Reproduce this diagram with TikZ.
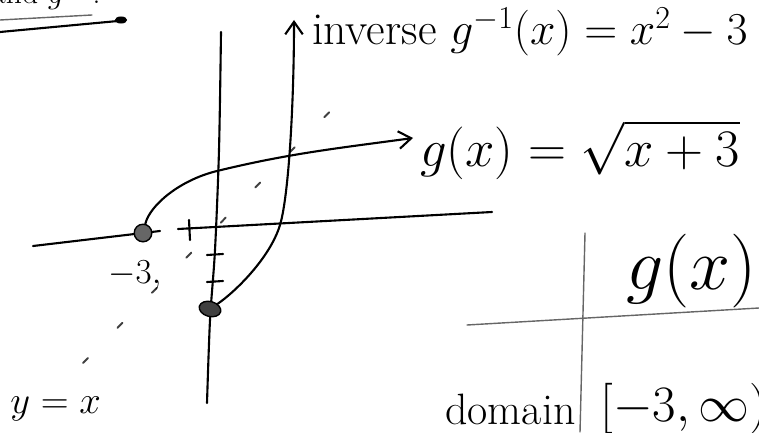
\documentclass[tikz,border=0pt]{standalone}
\usepackage{fix-cm}
\usepackage{amsmath}
\usepackage{tikz}
\usetikzlibrary{arrows.meta}
\usetikzlibrary{shapes.geometric}

\tikzset{
  pen/.style={black, line width=1.2pt, line cap=round},
  faint/.style={black!60, line width=0.8pt, line cap=round},
  hand/.style={inner sep=0pt, anchor=base west},
  blob/.style={draw=black, fill=black!60, line width=0.8pt, inner sep=0pt},
}

\begin{document}
\begin{tikzpicture}[x=0.02cm, y=-0.02cm]
    \useasboundingbox (0,0) rectangle (759,432);

    % bottom of the line above, cut by the page
    \node[hand, anchor=base east, font=\fontsize{18}{20}\selectfont] (head) at (101,4) {and $g^{-1}$.};
    \draw[faint] (0,20) -- (92,15);
    \draw[pen] (0,32) -- (118,21);
    \fill (121,20) ellipse (3.5pt and 2pt);

    % axes
    \coordinate (xl) at (33,246);
    \coordinate (xm) at (160,231);
    \coordinate (xn) at (178,229);
    \coordinate (xr) at (492,212);
    \draw[pen] (xl) -- (xm);
    \draw[pen] (xn) -- (xr);
    \draw[pen] plot[smooth] coordinates {(221,32) (219,150) (215,250) (210,320) (207,403)};

    \draw[pen] (189,220) -- (190,240);
    \foreach \y in {255,282}
        \draw[pen] (207,\y) -- (223,\y-1);

    % y = x, only hinted at
    \coordinate (yxa) at (83,363);
    \coordinate (yxb) at (350,91);
    \draw[black!75, line width=1.1pt, line cap=round, dash pattern=on 4pt off 24pt] (yxa) -- (yxb);

    \node[blob, circle, minimum size=10pt] (pa) at (143,233) {};
    \node[blob, ellipse, fill=black!75, minimum width=12.5pt, minimum height=8.5pt, rotate=-15] (pb) at (210,309) {};

    \coordinate (gtip) at (413,138);
    \coordinate (itip) at (294,20);
    \draw[pen, -{Straight Barb[length=2.5mm,width=3.5mm]}] (pa) .. controls (150,205) and (180,180) .. (217,171)
        .. controls (291,153) and (340,148) .. (gtip);
    \draw[pen, -{Straight Barb[length=2.5mm,width=3.5mm]}] (pb) .. controls (235,292) and (270,258) .. (280,225)
        .. controls (289,195) and (294,100) .. (itip);

    \node[hand, font=\fontsize{26}{30}\selectfont] (inv) at (312,45) {inverse $g^{-1}(x)=x^2-3$};
    \node[hand, font=\fontsize{30}{34}\selectfont] (gdef) at (420,166) {$g(x)=\sqrt{x+3}$};
    \node[hand, font=\fontsize{20}{22}\selectfont] (m3) at (108,283) {$-3,$};
    \node[hand, font=\fontsize{22}{24}\selectfont] (yx) at (10,413) {$y=x$};

    % little table
    \draw[faint] (467,325) -- (759,308);
    \draw[faint] (585,233) -- (580,432);
    \node[hand, font=\fontsize{42}{46}\selectfont] (gx) at (626,289) {$g(x)$};
    \node[hand, font=\fontsize{25}{28}\selectfont] (dom) at (445,424) {domain};
    \node[hand, font=\fontsize{29}{32}\selectfont] (dval) at (600,421) {$[-3,\infty)$};
\end{tikzpicture}
\end{document}
